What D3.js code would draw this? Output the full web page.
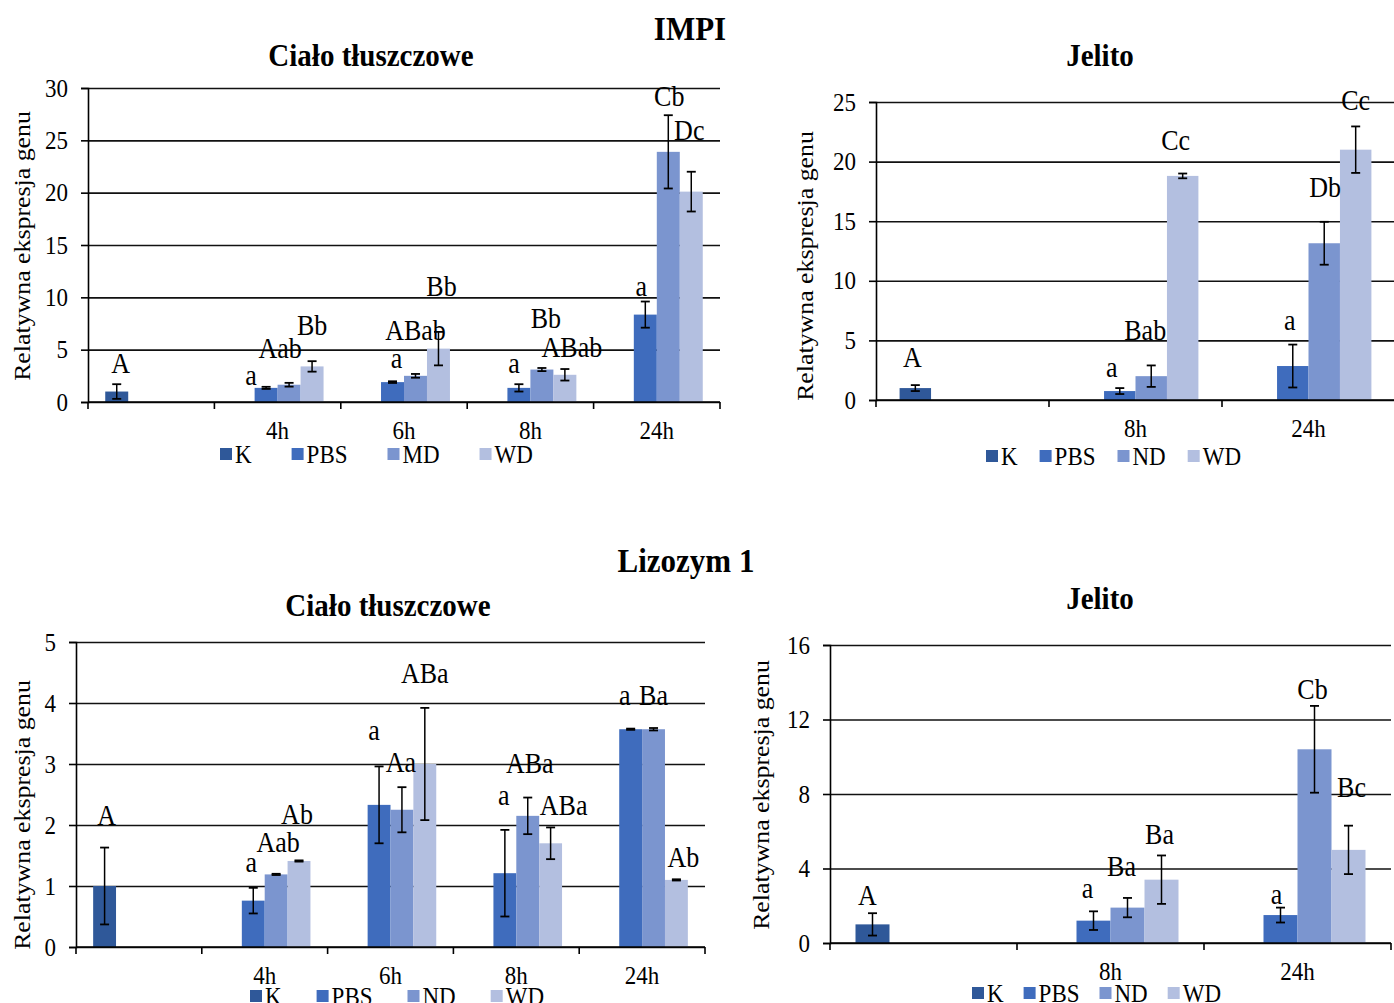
<!DOCTYPE html>
<html>
<head>
<meta charset="utf-8">
<script src="https://cdn.jsdelivr.net/npm/d3@7"></script>
<style>
  body { margin: 0; background: #fff; }
  text { font-family: "Liberation Serif", "Times New Roman", serif; fill: #000; }
</style>
</head>
<body>
<svg id="chart" width="1394" height="1003"></svg>
<script>
// ---- data -------------------------------------------------------------
var fatCategories = ["", "4h", "6h", "8h", "24h"];
var gutCategories = ["", "8h", "24h"];
var impiFatSeries = ["K", "PBS", "MD", "WD"];
var otherSeries = ["K", "PBS", "ND", "WD"];

// IMPI - ciało tłuszczowe
var impiFatK = [1.0, null, null, null, null];
var impiFatPBS = [null, 1.35, 1.9, 1.35, 8.35];
var impiFatMD = [null, 1.65, 2.5, 3.1, 23.9];
var impiFatWD = [null, 3.4, 5.1, 2.6, 20.1];
var impiFatErrK = [0.7, null, null, null, null];
var impiFatErrPBS = [null, 0.1, 0.08, 0.35, 1.25];
var impiFatErrMD = [null, 0.18, 0.18, 0.15, 3.5];
var impiFatErrWD = [null, 0.5, 1.6, 0.55, 1.9];
var impiFatLabK = ["A", null, null, null, null];
var impiFatLabPBS = [null, "a", "a", "a", "a"];
var impiFatLabMD = [null, "Aab", "ABab", "Bb", "Cb"];
var impiFatLabWD = [null, "Bb", "Bb", "ABab", "Dc"];

// IMPI - jelito
var impiGutK = [1.0, null, null];
var impiGutPBS = [null, 0.75, 2.85];
var impiGutND = [null, 2.0, 13.15];
var impiGutWD = [null, 18.8, 21.0];
var impiGutErrK = [0.25, null, null];
var impiGutErrPBS = [null, 0.25, 1.8];
var impiGutErrND = [null, 0.9, 1.8];
var impiGutErrWD = [null, 0.2, 1.95];
var impiGutLabK = ["A", null, null];
var impiGutLabPBS = [null, "a", "a"];
var impiGutLabND = [null, "Bab", "Db"];
var impiGutLabWD = [null, "Cc", "Cc"];

// Lizozym 1 - ciało tłuszczowe
var lysFatK = [1.0, null, null, null, null];
var lysFatPBS = [null, 0.76, 2.33, 1.21, 3.57];
var lysFatND = [null, 1.19, 2.25, 2.15, 3.57];
var lysFatWD = [null, 1.41, 3.0, 1.7, 1.1];
var lysFatErrK = [0.63, null, null, null, null];
var lysFatErrPBS = [null, 0.21, 0.63, 0.71, 0.01];
var lysFatErrND = [null, 0.01, 0.37, 0.3, 0.02];
var lysFatErrWD = [null, 0.01, 0.92, 0.26, 0.01];
var lysFatLabK = ["A", null, null, null, null];
var lysFatLabPBS = [null, "a", "a", "a", "a"];
var lysFatLabND = [null, "Aab", "Aa", "ABa", "Ba"];
var lysFatLabWD = [null, "Ab", "ABa", "ABa", "Ab"];

// Lizozym 1 - jelito
var lysGutK = [1.0, null, null];
var lysGutPBS = [null, 1.2, 1.5];
var lysGutND = [null, 1.9, 10.4];
var lysGutWD = [null, 3.4, 5.0];
var lysGutErrK = [0.6, null, null];
var lysGutErrPBS = [null, 0.5, 0.4];
var lysGutErrND = [null, 0.52, 2.33];
var lysGutErrWD = [null, 1.3, 1.3];
var lysGutLabK = ["A", null, null];
var lysGutLabPBS = [null, "a", "a"];
var lysGutLabND = [null, "Ba", "Cb"];
var lysGutLabWD = [null, "Ba", "Bc"];

var impiFatTicks = [0, 5, 10, 15, 20, 25, 30];
var impiGutTicks = [0, 5, 10, 15, 20, 25];
var lysFatTicks = [0, 1, 2, 3, 4, 5];
var lysGutTicks = [0, 4, 8, 12, 16];

// ---- styling / layout ---------------------------------------------------
var colors = ["#2f5899", "#3f6cbd", "#7b95cf", "#b3bfe0"];
var stretch = 1.1;   // the original picture is a bit taller than wide

var svg = d3.select("#chart");

function txt(g, x, y, str, size, opts) {
  opts = opts || {};
  return g.append("text")
    .attr("transform", "translate(" + x + "," + y + ") scale(1," + stretch + ")" + (opts.rotate ? " rotate(-90)" : ""))
    .attr("text-anchor", opts.anchor || "middle")
    .attr("dy", "0.35em")
    .style("font-size", size + "px")
    .style("font-weight", opts.bold ? "bold" : "normal")
    .text(str);
}

function drawPanel(p) {
  var g = svg.append("g");

  var x0 = d3.scaleBand().domain(p.categories).range([p.left, p.right]).padding(0);
  var x1 = d3.scaleBand().domain(p.series).range([0, x0.bandwidth()])
    .paddingInner(0).paddingOuter(0.75);
  var y = d3.scaleLinear().domain([0, d3.max(p.ticks)]).range([p.bottom, p.top]);

  // gridlines
  g.append("g")
    .attr("transform", "translate(" + p.left + ",0)")
    .call(d3.axisLeft(y).tickValues(p.ticks).tickSize(-(p.right - p.left)).tickFormat(""))
    .call(function (s) { s.select(".domain").remove(); })
    .selectAll("line").attr("stroke", "#111").attr("stroke-width", 1.6);

  // bars
  p.values.forEach(function (vals, s) {
    vals.forEach(function (v, i) {
      if (v == null) return;
      var cat = p.categories[i];
      g.append("rect")
        .attr("x", x0(cat) + x1(p.series[s]))
        .attr("y", y(v))
        .attr("width", x1.bandwidth())
        .attr("height", y(0) - y(v))
        .attr("fill", colors[s]);
    });
  });

  // error bars
  p.values.forEach(function (vals, s) {
    vals.forEach(function (v, i) {
      if (v == null) return;
      var e = p.errors[s][i];
      var cx = x0(p.categories[i]) + x1(p.series[s]) + x1.bandwidth() / 2;
      var lo = y(v - e), hi = y(v + e);
      g.append("line").attr("x1", cx).attr("x2", cx).attr("y1", lo).attr("y2", hi)
        .attr("stroke", "#000").attr("stroke-width", 1.5);
      [lo, hi].forEach(function (yy) {
        g.append("line").attr("x1", cx - 4.5).attr("x2", cx + 4.5).attr("y1", yy).attr("y2", yy)
          .attr("stroke", "#000").attr("stroke-width", 1.8);
      });
    });
  });

  // y axis
  var yAxis = g.append("g")
    .attr("transform", "translate(" + p.left + ",0)")
    .call(d3.axisLeft(y).tickValues(p.ticks).tickSize(7).tickPadding(13).tickFormat(d3.format("d")));
  yAxis.selectAll("path, line").attr("stroke", "#000").attr("stroke-width", 1.6);
  yAxis.selectAll("text")
    .attr("transform", "scale(1," + stretch + ")")
    .style("font-size", "23px")
    .style("font-family", "Liberation Serif, serif");

  // x axis: line, boundary ticks, centred labels
  g.append("line").attr("x1", p.left).attr("x2", p.right).attr("y1", y(0)).attr("y2", y(0))
    .attr("stroke", "#000").attr("stroke-width", 1.6);
  var bounds = p.categories.map(function (c) { return x0(c); }).concat([p.right]);
  bounds.forEach(function (bx) {
    g.append("line").attr("x1", bx).attr("x2", bx).attr("y1", y(0)).attr("y2", y(0) + 7)
      .attr("stroke", "#000").attr("stroke-width", 1.6);
  });
  p.categories.forEach(function (c) {
    if (c) txt(g, x0(c) + x0.bandwidth() / 2, y(0) + 28, c, 23);
  });

  // data labels
  p.labels.forEach(function (labs, s) {
    labs.forEach(function (t, i) {
      if (t == null) return;
      var v = p.values[s][i], e = p.errors[s][i];
      var cx = x0(p.categories[i]) + x1(p.series[s]) + x1.bandwidth() / 2;
      var sh = p.labelShift[s][i];
      txt(g, cx + sh[0], y(v + e) + sh[1], t, 26);
    });
  });

  // axis title
  txt(g, p.yLabelPos[0], p.yLabelPos[1], "Relatywna ekspresja genu", 23.5, { rotate: true });

  // legend
  var lx = p.legend[0], ly = p.legend[1];
  p.series.forEach(function (name, s) {
    g.append("rect").attr("x", lx).attr("y", ly - 6).attr("width", 12).attr("height", 12)
      .attr("fill", colors[s]);
    var t = txt(g, lx + 15, ly, name, 23, { anchor: "start" });
    lx += 15 + t.node().getComputedTextLength() + p.legend[2];
  });

  // subtitle
  txt(g, p.title[0], p.title[1], p.title[2], 29, { bold: true });
}

txt(svg, 690, 28, "IMPI", 31, { bold: true });
txt(svg, 686, 560, "Lizozym 1", 31, { bold: true });

drawPanel({
  categories: fatCategories, series: impiFatSeries, ticks: impiFatTicks,
  values: [impiFatK, impiFatPBS, impiFatMD, impiFatWD],
  errors: [impiFatErrK, impiFatErrPBS, impiFatErrMD, impiFatErrWD],
  labels: [impiFatLabK, impiFatLabPBS, impiFatLabMD, impiFatLabWD],
  labelShift: [
    [[4, -21]],
    [null, [-15, -12], [4, -23], [-5, -21], [-4, -16]],
    [null, [-9, -35], [0, -44], [4, -50], [1, -19]],
    [null, [0, -36], [3, -46], [7, -22], [-2, -42]]
  ],
  left: 88, right: 720, top: 88, bottom: 402,
  yLabelPos: [22, 246], legend: [220, 454, 40], title: [371, 55, "Ciało tłuszczowe"]
});

drawPanel({
  categories: gutCategories, series: otherSeries, ticks: impiGutTicks,
  values: [impiGutK, impiGutPBS, impiGutND, impiGutWD],
  errors: [impiGutErrK, impiGutErrPBS, impiGutErrND, impiGutErrWD],
  labels: [impiGutLabK, impiGutLabPBS, impiGutLabND, impiGutLabWD],
  labelShift: [
    [[-3, -28]],
    [null, [-8, -21], [-3, -25]],
    [null, [-6, -35], [1, -35]],
    [null, [-7, -34], [0, -26]]
  ],
  left: 876, right: 1395, top: 102, bottom: 400,
  yLabelPos: [805, 266], legend: [986, 456, 22], title: [1100, 55, "Jelito"]
});

drawPanel({
  categories: fatCategories, series: otherSeries, ticks: lysFatTicks,
  values: [lysFatK, lysFatPBS, lysFatND, lysFatWD],
  errors: [lysFatErrK, lysFatErrPBS, lysFatErrND, lysFatErrWD],
  labels: [lysFatLabK, lysFatLabPBS, lysFatLabND, lysFatLabWD],
  labelShift: [
    [[2, -33]],
    [null, [-2, -26], [-5, -36], [-1, -35], [-6, -34]],
    [null, [2, -32], [-1, -25], [2, -35], [0, -33]],
    [null, [-2, -46], [0, -35], [13, -22], [7, -22]]
  ],
  left: 76, right: 705, top: 642, bottom: 947,
  yLabelPos: [22, 815], legend: [250, 996, 35], title: [388, 605, "Ciało tłuszczowe"]
});

drawPanel({
  categories: gutCategories, series: otherSeries, ticks: lysGutTicks,
  values: [lysGutK, lysGutPBS, lysGutND, lysGutWD],
  errors: [lysGutErrK, lysGutErrPBS, lysGutErrND, lysGutErrWD],
  labels: [lysGutLabK, lysGutLabPBS, lysGutLabND, lysGutLabWD],
  labelShift: [
    [[-5, -18]],
    [null, [-6, -23], [-4, -14]],
    [null, [-6, -32], [-2, -17]],
    [null, [-2, -21], [3, -39]]
  ],
  left: 830, right: 1391, top: 645, bottom: 943,
  yLabelPos: [761, 795], legend: [972, 993, 20], title: [1100, 598, "Jelito"]
});
</script>
</body>
</html>
